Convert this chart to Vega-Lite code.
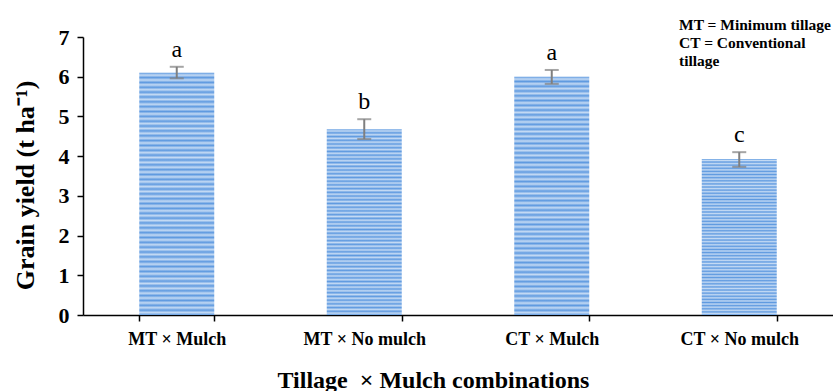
{
  "$schema": "https://vega.github.io/schema/vega-lite/v6.json",
  "width": 750,
  "height": 278,
  "autosize": "none",
  "padding": {"left": 83, "top": 37, "right": 0, "bottom": 76},
  "background": "white",
  "config": {
    "view": {"stroke": null},
    "font": "Liberation Serif",
    "axisY": {
      "titleFont": "Liberation Serif",
      "titleFontSize": 26,
      "titleFontWeight": "bold",
      "titleColor": "black",
      "titlePadding": 20,
      "titleY": 148,
      "labelOverlap": false,
      "labelFont": "Liberation Serif",
      "labelFontSize": 22,
      "labelFontWeight": "bold",
      "labelColor": "black",
      "labelPadding": 8,
      "tickSize": 6,
      "tickColor": "black",
      "tickWidth": 1.5,
      "domainColor": "black",
      "domainWidth": 1.5,
      "grid": false
    }
  },
  "title": {
    "text": ["MT = Minimum tillage", "CT = Conventional", "tillage"],
    "anchor": "end",
    "align": "left",
    "dx": -154,
    "baseline": "top",
    "dy": 47,
    "font": "Liberation Serif",
    "fontSize": 15.5,
    "fontWeight": "bold",
    "lineHeight": 18,
    "color": "black",
    "frame": "group"
  },
  "data": {
    "values": [
      {"combo": "MT × Mulch", "yield": 6.1, "lo": 5.96, "hi": 6.25, "letter": "a"},
      {"combo": "MT × No mulch", "yield": 4.68, "lo": 4.43, "hi": 4.93, "letter": "b"},
      {"combo": "CT × Mulch", "yield": 6.0, "lo": 5.82, "hi": 6.17, "letter": "a"},
      {"combo": "CT × No mulch", "yield": 3.93, "lo": 3.73, "hi": 4.1, "letter": "c"}
    ]
  },
  "encoding": {
    "x": {
      "field": "combo",
      "type": "nominal",
      "sort": null,
      "scale": {"paddingInner": 0.6, "paddingOuter": 0.3},
      "axis": {
        "title": "Tillage\u00a0 × Mulch combinations",
        "titleFont": "Liberation Serif",
        "titleFontSize": 24,
        "titleFontWeight": "bold",
        "titleColor": "black",
        "titlePadding": 20,
        "titleX": 350,
        "labelAngle": 0,
        "labelFont": "Liberation Serif",
        "labelFontSize": 18,
        "labelFontWeight": "bold",
        "labelColor": "black",
        "labelPadding": 9,
        "tickBand": "extent",
        "tickSize": 6,
        "tickColor": "black",
        "tickWidth": 1.5,
        "domainColor": "black",
        "domainWidth": 1.5
      }
    }
  },
  "layer": [
    {
      "mark": {
        "type": "bar",
        "fill": {
          "gradient": "linear",
          "x1": 0, "y1": 0, "x2": 0, "y2": 1,
          "stops": [
            {"offset": 0.00, "color": "#5f9ae0"}, {"offset": 0.01, "color": "#c4daf4"},
            {"offset": 0.02, "color": "#5f9ae0"}, {"offset": 0.03, "color": "#c4daf4"},
            {"offset": 0.04, "color": "#5f9ae0"}, {"offset": 0.05, "color": "#c4daf4"},
            {"offset": 0.06, "color": "#5f9ae0"}, {"offset": 0.07, "color": "#c4daf4"},
            {"offset": 0.08, "color": "#5f9ae0"}, {"offset": 0.09, "color": "#c4daf4"},
            {"offset": 0.10, "color": "#5f9ae0"}, {"offset": 0.11, "color": "#c4daf4"},
            {"offset": 0.12, "color": "#5f9ae0"}, {"offset": 0.13, "color": "#c4daf4"},
            {"offset": 0.14, "color": "#5f9ae0"}, {"offset": 0.15, "color": "#c4daf4"},
            {"offset": 0.16, "color": "#5f9ae0"}, {"offset": 0.17, "color": "#c4daf4"},
            {"offset": 0.18, "color": "#5f9ae0"}, {"offset": 0.19, "color": "#c4daf4"},
            {"offset": 0.20, "color": "#5f9ae0"}, {"offset": 0.21, "color": "#c4daf4"},
            {"offset": 0.22, "color": "#5f9ae0"}, {"offset": 0.23, "color": "#c4daf4"},
            {"offset": 0.24, "color": "#5f9ae0"}, {"offset": 0.25, "color": "#c4daf4"},
            {"offset": 0.26, "color": "#5f9ae0"}, {"offset": 0.27, "color": "#c4daf4"},
            {"offset": 0.28, "color": "#5f9ae0"}, {"offset": 0.29, "color": "#c4daf4"},
            {"offset": 0.30, "color": "#5f9ae0"}, {"offset": 0.31, "color": "#c4daf4"},
            {"offset": 0.32, "color": "#5f9ae0"}, {"offset": 0.33, "color": "#c4daf4"},
            {"offset": 0.34, "color": "#5f9ae0"}, {"offset": 0.35, "color": "#c4daf4"},
            {"offset": 0.36, "color": "#5f9ae0"}, {"offset": 0.37, "color": "#c4daf4"},
            {"offset": 0.38, "color": "#5f9ae0"}, {"offset": 0.39, "color": "#c4daf4"},
            {"offset": 0.40, "color": "#5f9ae0"}, {"offset": 0.41, "color": "#c4daf4"},
            {"offset": 0.42, "color": "#5f9ae0"}, {"offset": 0.43, "color": "#c4daf4"},
            {"offset": 0.44, "color": "#5f9ae0"}, {"offset": 0.45, "color": "#c4daf4"},
            {"offset": 0.46, "color": "#5f9ae0"}, {"offset": 0.47, "color": "#c4daf4"},
            {"offset": 0.48, "color": "#5f9ae0"}, {"offset": 0.49, "color": "#c4daf4"},
            {"offset": 0.50, "color": "#5f9ae0"}, {"offset": 0.51, "color": "#c4daf4"},
            {"offset": 0.52, "color": "#5f9ae0"}, {"offset": 0.53, "color": "#c4daf4"},
            {"offset": 0.54, "color": "#5f9ae0"}, {"offset": 0.55, "color": "#c4daf4"},
            {"offset": 0.56, "color": "#5f9ae0"}, {"offset": 0.57, "color": "#c4daf4"},
            {"offset": 0.58, "color": "#5f9ae0"}, {"offset": 0.59, "color": "#c4daf4"},
            {"offset": 0.60, "color": "#5f9ae0"}, {"offset": 0.61, "color": "#c4daf4"},
            {"offset": 0.62, "color": "#5f9ae0"}, {"offset": 0.63, "color": "#c4daf4"},
            {"offset": 0.64, "color": "#5f9ae0"}, {"offset": 0.65, "color": "#c4daf4"},
            {"offset": 0.66, "color": "#5f9ae0"}, {"offset": 0.67, "color": "#c4daf4"},
            {"offset": 0.68, "color": "#5f9ae0"}, {"offset": 0.69, "color": "#c4daf4"},
            {"offset": 0.70, "color": "#5f9ae0"}, {"offset": 0.71, "color": "#c4daf4"},
            {"offset": 0.72, "color": "#5f9ae0"}, {"offset": 0.73, "color": "#c4daf4"},
            {"offset": 0.74, "color": "#5f9ae0"}, {"offset": 0.75, "color": "#c4daf4"},
            {"offset": 0.76, "color": "#5f9ae0"}, {"offset": 0.77, "color": "#c4daf4"},
            {"offset": 0.78, "color": "#5f9ae0"}, {"offset": 0.79, "color": "#c4daf4"},
            {"offset": 0.80, "color": "#5f9ae0"}, {"offset": 0.81, "color": "#c4daf4"},
            {"offset": 0.82, "color": "#5f9ae0"}, {"offset": 0.83, "color": "#c4daf4"},
            {"offset": 0.84, "color": "#5f9ae0"}, {"offset": 0.85, "color": "#c4daf4"},
            {"offset": 0.86, "color": "#5f9ae0"}, {"offset": 0.87, "color": "#c4daf4"},
            {"offset": 0.88, "color": "#5f9ae0"}, {"offset": 0.89, "color": "#c4daf4"},
            {"offset": 0.90, "color": "#5f9ae0"}, {"offset": 0.91, "color": "#c4daf4"},
            {"offset": 0.92, "color": "#5f9ae0"}, {"offset": 0.93, "color": "#c4daf4"},
            {"offset": 0.94, "color": "#5f9ae0"}, {"offset": 0.95, "color": "#c4daf4"},
            {"offset": 0.96, "color": "#5f9ae0"}, {"offset": 0.97, "color": "#c4daf4"},
            {"offset": 0.98, "color": "#5f9ae0"}, {"offset": 0.99, "color": "#c4daf4"},
            {"offset": 1.00, "color": "#5f9ae0"}
          ]
        }
      },
      "encoding": {
        "y": {
          "field": "yield",
          "type": "quantitative",
          "scale": {"domain": [0, 7], "nice": false},
          "axis": {"title": "Grain yield (t ha⁻¹)", "values": [0, 1, 2, 3, 4, 5, 6, 7]}
        }
      }
    },
    {
      "mark": {"type": "rule", "color": "#7f7f7f", "strokeWidth": 2},
      "encoding": {
        "y": {"field": "lo", "type": "quantitative", "axis": {"title": "Grain yield (t ha⁻¹)", "values": [0, 1, 2, 3, 4, 5, 6, 7]}},
        "y2": {"field": "hi"}
      }
    },
    {
      "mark": {"type": "tick", "color": "#7f7f7f", "thickness": 2, "size": 14, "orient": "horizontal"},
      "encoding": {"y": {"field": "lo", "type": "quantitative", "axis": {"title": "Grain yield (t ha⁻¹)", "values": [0, 1, 2, 3, 4, 5, 6, 7]}}}
    },
    {
      "mark": {"type": "tick", "color": "#7f7f7f", "thickness": 2, "size": 14, "orient": "horizontal"},
      "encoding": {"y": {"field": "hi", "type": "quantitative", "axis": {"title": "Grain yield (t ha⁻¹)", "values": [0, 1, 2, 3, 4, 5, 6, 7]}}}
    },
    {
      "mark": {"type": "text", "font": "Liberation Serif", "fontSize": 24, "baseline": "bottom", "dy": -5, "color": "black"},
      "encoding": {
        "y": {"field": "hi", "type": "quantitative", "axis": {"title": "Grain yield (t ha⁻¹)", "values": [0, 1, 2, 3, 4, 5, 6, 7]}},
        "text": {"field": "letter"}
      }
    }
  ]
}
